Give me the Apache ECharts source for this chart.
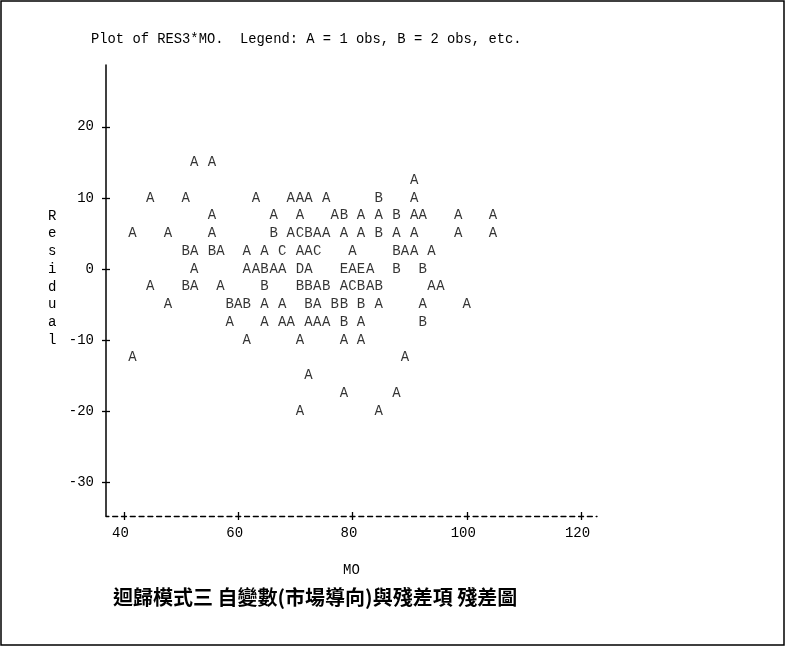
<!DOCTYPE html>
<html>
<head>
<meta charset="utf-8">
<script src="https://cdn.jsdelivr.net/npm/echarts@6/dist/echarts.min.js"></script>
<style>
  html, body { margin: 0; padding: 0; background: #fff; }
  #chart { width: 787px; height: 648px; }
</style>
</head>
<body>
<div id="chart"></div>
<script>
// Residual level of each printed row of the plot
const residualRows = [15, 12.5, 10, 7.5, 5, 2.5, 0, -2.5, -5, -7.5, -10, -12.5, -15, -17.5, -20];

// MO value of every plotted position, one list per residual row
const moByRow = [
  [52.3, 55.4],
  [90.8],
  [44.6, 50.8, 63.1, 69.2, 70.8, 72.3, 75.4, 84.6, 90.8],
  [55.4, 66.2, 70.8, 76.9, 78.5, 81.5, 84.6, 87.7, 90.8, 92.3, 98.5, 104.6],
  [41.5, 47.7, 55.4, 66.2, 69.2, 70.8, 72.3, 73.8, 75.4, 78.5, 81.5, 84.6, 87.7, 90.8, 98.5, 104.6],
  [50.8, 52.3, 55.4, 56.9, 61.5, 64.6, 67.7, 70.8, 72.3, 73.8, 80.0, 87.7, 89.2, 90.8, 93.8],
  [52.3, 61.5, 63.1, 64.6, 66.2, 67.7, 70.8, 72.3, 78.5, 80.0, 81.5, 83.1, 87.7, 92.3],
  [44.6, 50.8, 52.3, 56.9, 64.6, 70.8, 72.3, 73.8, 75.4, 78.5, 80.0, 81.5, 83.1, 84.6, 93.8, 95.4],
  [47.7, 58.5, 60.0, 61.5, 64.6, 67.7, 72.3, 73.8, 76.9, 78.5, 81.5, 84.6, 92.3, 100.0],
  [58.5, 64.6, 67.7, 69.2, 72.3, 73.8, 75.4, 78.5, 81.5, 92.3],
  [61.5, 70.8, 78.5, 81.5],
  [41.5, 89.2],
  [72.3],
  [78.5, 87.7],
  [70.8, 84.6]
];

// Number of observations at each position (A = 1, B = 2, ...)
const obsByRow = [
  [1, 1],
  [1],
  [1, 1, 1, 1, 1, 1, 1, 2, 1],
  [1, 1, 1, 1, 2, 1, 1, 2, 1, 1, 1, 1],
  [1, 1, 1, 2, 1, 3, 2, 1, 1, 1, 1, 2, 1, 1, 1, 1],
  [2, 1, 2, 1, 1, 1, 3, 1, 1, 3, 1, 2, 1, 1, 1],
  [1, 1, 1, 2, 1, 1, 4, 1, 5, 1, 5, 1, 2, 2],
  [1, 2, 1, 1, 2, 2, 2, 1, 2, 1, 3, 2, 1, 2, 1, 1],
  [1, 2, 1, 2, 1, 1, 2, 1, 2, 2, 2, 1, 1, 1],
  [1, 1, 1, 1, 1, 1, 1, 2, 1, 2],
  [1, 1, 1, 1],
  [1, 1],
  [1],
  [1, 1],
  [1, 1]
];

// Tick labels
const xTicks = [40, 60, 80, 100, 120];
const yTicks = [-30, -20, -10, 0, 10, 20];

const points = [];
residualRows.forEach(function (res, r) {
  moByRow[r].forEach(function (mo, i) {
    points.push([mo, res, obsByRow[r][i]]);
  });
});

const mono = 'Liberation Mono';
const ink = '#000';
const xMin = 36.85, xMax = 122.8;
const yMin = -34.8, yMax = 28.7;
const plotBox = { left: 106, right: 190, top: 65, bottom: 132, containLabel: false };
const tickStyle = { color: ink, width: 1.3 };

const chart = echarts.init(document.getElementById('chart'), null, { renderer: 'canvas' });

chart.setOption({
  backgroundColor: '#fff',
  animation: false,
  // grid 1 overlays grid 0; its inward ticks complete the "+" marks on both axes
  grid: [plotBox, plotBox],
  xAxis: [
    {
      gridIndex: 0, type: 'value', min: xMin, max: xMax, position: 'bottom',
      axisLine: { show: true, onZero: false, lineStyle: { color: ink, width: 1.3, type: [5, 3.79], dashOffset: 2.1 } },
      axisTick: { show: true, length: 4, customValues: xTicks, lineStyle: tickStyle },
      axisLabel: { customValues: xTicks, color: ink, fontFamily: mono, fontSize: 14, margin: 10, padding: [0, 7, 0, 0] },
      splitLine: { show: false },
      name: 'MO', nameLocation: 'middle', nameGap: 47,
      nameTextStyle: { color: ink, fontFamily: mono, fontSize: 14 }
    },
    {
      gridIndex: 1, type: 'value', min: xMin, max: xMax, position: 'bottom',
      axisLine: { show: false, onZero: false },
      axisTick: { show: true, inside: true, length: 4, customValues: xTicks, lineStyle: tickStyle },
      axisLabel: { show: false },
      splitLine: { show: false }
    }
  ],
  yAxis: [
    {
      gridIndex: 0, type: 'value', min: yMin, max: yMax, position: 'left',
      axisLine: { show: true, onZero: false, lineStyle: { color: ink, width: 1.5 } },
      axisTick: { show: true, length: 4, customValues: yTicks, lineStyle: tickStyle },
      axisLabel: { customValues: yTicks, color: ink, fontFamily: mono, fontSize: 14, margin: 12 },
      splitLine: { show: false }
    },
    {
      gridIndex: 1, type: 'value', min: yMin, max: yMax, position: 'left',
      axisLine: { show: false, onZero: false },
      axisTick: { show: true, inside: true, length: 4, customValues: yTicks, lineStyle: tickStyle },
      axisLabel: { show: false },
      splitLine: { show: false }
    }
  ],
  series: [{
    type: 'scatter',
    xAxisIndex: 0, yAxisIndex: 0,
    data: points,
    symbolSize: 1,
    itemStyle: { color: 'rgba(0,0,0,0)' },
    label: {
      show: true, position: 'inside',
      formatter: function (p) { return String.fromCharCode(64 + p.value[2]); },
      color: ink, fontFamily: mono, fontSize: 14
    },
    emphasis: { disabled: true }
  }],
  graphic: [
    {
      type: 'rect', silent: true,
      shape: { x: 1, y: 1, width: 783, height: 644 },
      style: { fill: 'none', stroke: '#000', lineWidth: 1.5 }
    },
    {
      type: 'text', left: 91, top: 32, silent: true,
      style: {
        text: 'Plot of RES3*MO.  Legend: A = 1 obs, B = 2 obs, etc.',
        fill: ink, font: '13.8px "Liberation Mono"'
      }
    },
    {
      type: 'text', left: 48, top: 207, silent: true,
      style: {
        text: 'R\ne\ns\ni\nd\nu\na\nl',
        fill: ink, font: '14px "Liberation Mono"', lineHeight: 17.75, align: 'left'
      }
    },
    {
      type: 'text', left: 113, top: 587, silent: true,
      style: {
        text: '迴歸模式三 自變數(市場導向)與殘差項 殘差圖',
        fill: '#000', font: 'bold 20px "Noto Sans CJK TC"'
      }
    }
  ]
});
</script>
</body>
</html>
